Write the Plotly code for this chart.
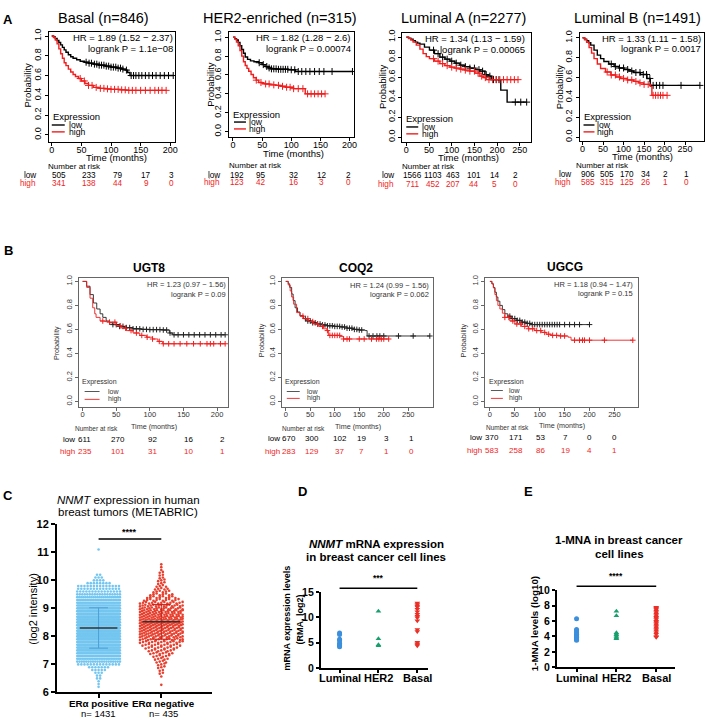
import numpy as np
import plotly.graph_objects as go

W, H = 709, 724
FONT = "Liberation Sans, Arial, Helvetica, sans-serif"
KRED = "#f01e1e"

# ---------------- Panel A / B : Kaplan-Meier data ----------------
PROB_TICKS = [0, 0.2, 0.4, 0.6, 0.8, 1.0]
PROB_LABELS = ["0.0", "0.2", "0.4", "0.6", "0.8", "1.0"]

basal_low_t = [0, 3, 6, 9, 12, 15, 18, 21, 24, 28, 32, 36, 42, 48, 55, 62, 70, 80, 90, 100, 110, 118, 124, 128, 132, 205]
basal_low_s = [1.0, 0.99, 0.975, 0.955, 0.935, 0.91, 0.885, 0.86, 0.835, 0.81, 0.79, 0.775, 0.76, 0.745, 0.735, 0.725, 0.715, 0.705, 0.695, 0.685, 0.675, 0.665, 0.655, 0.63, 0.60, 0.60]
basal_low_c = [58, 63, 67, 72, 76, 80, 84, 88, 92, 96, 100, 104, 108, 112, 116, 120, 126, 134, 138, 142, 147, 152, 158, 164, 170, 176, 183, 190, 197, 205]
basal_high_t = [0, 3, 6, 9, 12, 15, 18, 21, 24, 28, 32, 36, 40, 45, 50, 56, 62, 70, 80, 90, 100, 115, 125, 193]
basal_high_s = [1.0, 0.985, 0.96, 0.92, 0.87, 0.82, 0.775, 0.73, 0.70, 0.665, 0.635, 0.61, 0.59, 0.57, 0.545, 0.52, 0.50, 0.48, 0.47, 0.465, 0.46, 0.455, 0.45, 0.45]
basal_high_c = [48, 55, 62, 68, 75, 82, 88, 94, 100, 106, 112, 118, 124, 130, 136, 142, 150, 158, 166, 174, 180, 186, 193]

her2_low_t = [0, 3, 6, 9, 12, 15, 18, 21, 25, 30, 36, 44, 50, 55, 60, 65, 78, 95, 107, 205]
her2_low_s = [1.0, 0.985, 0.97, 0.945, 0.91, 0.87, 0.83, 0.79, 0.765, 0.75, 0.74, 0.73, 0.71, 0.69, 0.675, 0.665, 0.66, 0.655, 0.637, 0.637]
her2_low_c = [45, 52, 58, 62, 66, 70, 74, 78, 82, 86, 90, 94, 100, 106, 112, 118, 125, 132, 140, 148, 156, 170, 205]
her2_high_t = [0, 3, 6, 9, 12, 15, 18, 21, 24, 27, 31, 35, 40, 44, 50, 55, 63, 73, 82, 90, 104, 124, 158]
her2_high_s = [1.0, 0.98, 0.95, 0.91, 0.86, 0.80, 0.74, 0.70, 0.67, 0.64, 0.605, 0.57, 0.545, 0.52, 0.51, 0.505, 0.495, 0.49, 0.48, 0.47, 0.455, 0.40, 0.40]
her2_high_c = [40, 48, 56, 62, 70, 78, 85, 92, 98, 104, 112, 120, 128, 134, 140, 146, 152, 158]

luma_low_t = [0, 5, 10, 15, 20, 25, 30, 40, 51, 62, 74, 85, 96, 107, 118, 129, 140, 151, 162, 173, 180, 187, 205, 208, 222, 265]
luma_low_s = [1.0, 0.99, 0.98, 0.965, 0.95, 0.94, 0.93, 0.90, 0.87, 0.835, 0.80, 0.78, 0.76, 0.74, 0.72, 0.705, 0.69, 0.675, 0.66, 0.625, 0.61, 0.575, 0.57, 0.47, 0.35, 0.35]
luma_low_c = [60, 70, 80, 90, 100, 110, 120, 130, 140, 150, 160, 168, 176, 184, 192, 198, 204, 240, 252, 265]
luma_high_t = [0, 5, 10, 15, 22, 30, 37, 44, 51, 62, 74, 85, 96, 107, 118, 129, 140, 151, 162, 170, 176, 246]
luma_high_s = [1.0, 0.985, 0.97, 0.95, 0.92, 0.88, 0.835, 0.805, 0.785, 0.76, 0.735, 0.715, 0.70, 0.69, 0.68, 0.67, 0.66, 0.64, 0.61, 0.595, 0.575, 0.575]
luma_high_c = [60, 70, 80, 90, 100, 110, 120, 130, 140, 150, 158, 166, 174, 182, 190, 198, 206, 214, 222, 230, 238, 246]

lumb_low_t = [0, 5, 10, 15, 20, 28, 36, 44, 52, 64, 77, 89, 101, 113, 125, 141, 157, 165, 286]
lumb_low_s = [1.0, 0.985, 0.97, 0.95, 0.925, 0.875, 0.825, 0.79, 0.76, 0.735, 0.71, 0.695, 0.68, 0.665, 0.65, 0.63, 0.59, 0.52, 0.52]
lumb_low_c = [70, 80, 90, 100, 110, 120, 130, 140, 148, 156, 164, 172, 180, 188, 196, 240, 286]
lumb_high_t = [0, 5, 10, 16, 22, 28, 36, 44, 56, 69, 81, 93, 109, 125, 137, 149, 165, 169, 206]
lumb_high_s = [1.0, 0.98, 0.955, 0.90, 0.845, 0.79, 0.735, 0.69, 0.655, 0.625, 0.605, 0.59, 0.575, 0.56, 0.545, 0.53, 0.51, 0.42, 0.42]
lumb_high_c = [60, 70, 80, 90, 100, 110, 120, 130, 140, 150, 160, 172, 178, 184, 190, 196, 206]

ugt8_low_t = [0, 6, 11, 16, 21, 26, 30, 35, 40, 45, 55, 65, 75, 87, 99, 119, 129, 134, 212]
ugt8_low_s = [1.0, 0.96, 0.89, 0.82, 0.77, 0.73, 0.70, 0.67, 0.655, 0.64, 0.625, 0.615, 0.605, 0.60, 0.598, 0.595, 0.57, 0.555, 0.555]
ugt8_low_c = [45, 50, 55, 60, 65, 70, 75, 80, 85, 90, 95, 100, 105, 110, 115, 120, 125, 130, 136, 142, 150, 158, 166, 174, 182, 190, 198, 206, 212]
ugt8_high_t = [0, 6, 11, 15, 18, 20, 26, 33, 40, 50, 58, 65, 75, 85, 95, 104, 112, 119, 212]
ugt8_high_s = [1.0, 0.95, 0.86, 0.78, 0.73, 0.70, 0.67, 0.665, 0.66, 0.63, 0.61, 0.59, 0.57, 0.55, 0.535, 0.52, 0.50, 0.48, 0.48]
ugt8_high_c = [30, 40, 48, 56, 64, 72, 80, 88, 96, 104, 114, 120, 128, 136, 145, 155, 165, 175, 185, 190, 195, 205, 212]

coq2_low_t = [0, 5, 8, 12, 15, 19, 24, 29, 36, 43, 53, 63, 74, 84, 98, 111, 125, 138, 150, 162, 166, 294]
coq2_low_s = [1.0, 0.98, 0.95, 0.895, 0.84, 0.78, 0.745, 0.715, 0.69, 0.67, 0.655, 0.645, 0.637, 0.63, 0.625, 0.62, 0.61, 0.60, 0.595, 0.59, 0.545, 0.545]
coq2_low_c = [40, 45, 50, 55, 60, 65, 70, 75, 80, 85, 90, 95, 100, 105, 110, 115, 120, 125, 130, 135, 140, 145, 150, 155, 170, 178, 186, 192, 200, 230, 260, 294]
coq2_high_t = [0, 5, 9, 12, 16, 22, 29, 36, 46, 57, 67, 77, 84, 87, 111, 118, 210]
coq2_high_s = [1.0, 0.97, 0.92, 0.87, 0.81, 0.74, 0.71, 0.69, 0.665, 0.645, 0.625, 0.605, 0.59, 0.55, 0.54, 0.52, 0.52]
coq2_high_c = [35, 45, 55, 65, 75, 85, 90, 95, 100, 105, 110, 118, 125, 130, 150, 160, 175, 185, 190, 195, 200, 210]

ugcg_low_t = [0, 4, 7, 10, 13, 16, 20, 25, 30, 36, 43, 53, 63, 73, 83, 200]
ugcg_low_s = [1.0, 0.98, 0.95, 0.91, 0.87, 0.835, 0.80, 0.765, 0.73, 0.71, 0.69, 0.675, 0.66, 0.65, 0.64, 0.64]
ugcg_low_c = [40, 45, 50, 55, 60, 65, 70, 75, 80, 85, 90, 95, 100, 105, 110, 115, 120, 125, 130, 135, 140, 150, 160, 170, 180, 200]
ugcg_high_t = [0, 4, 7, 10, 13, 16, 20, 25, 30, 40, 50, 63, 77, 90, 103, 113, 123, 140, 157, 163, 287]
ugcg_high_s = [1.0, 0.98, 0.945, 0.89, 0.84, 0.80, 0.77, 0.735, 0.70, 0.67, 0.645, 0.625, 0.605, 0.59, 0.575, 0.56, 0.55, 0.545, 0.535, 0.51, 0.51]
ugcg_high_c = [30, 38, 46, 54, 62, 70, 78, 86, 94, 102, 110, 118, 126, 134, 142, 150, 170, 180, 186, 190, 200, 230, 287]

# Numbers at risk
basal_risk_low = [505, 233, 79, 17, 3]
basal_risk_high = [341, 138, 44, 9, 0]
her2_risk_low = [192, 95, 32, 12, 2]
her2_risk_high = [123, 42, 16, 3, 0]
luma_risk_low = [1566, 1103, 463, 101, 14, 2]
luma_risk_high = [711, 452, 207, 44, 5, 0]
lumb_risk_low = [906, 505, 170, 34, 2, 1]
lumb_risk_high = [585, 315, 125, 26, 1, 0]
ugt8_risk_low = [611, 270, 92, 16, 2]
ugt8_risk_high = [235, 101, 31, 10, 1]
coq2_risk_low = [670, 300, 102, 19, 3, 1]
coq2_risk_high = [283, 129, 37, 7, 1, 0]
ugcg_risk_low = [370, 171, 53, 7, 0, 0]
ugcg_risk_high = [583, 258, 86, 19, 4, 1]

A_titles = ["Basal (n=846)", "HER2-enriched (n=315)", "Luminal A (n=2277)", "Luminal B (n=1491)"]
A_hr = ["HR = 1.89 (1.52 − 2.37)", "HR = 1.82 (1.28 − 2.6)", "HR = 1.34 (1.13 − 1.59)", "HR = 1.33 (1.11 − 1.58)"]
A_p = ["logrank P = 1.1e−08", "logrank P = 0.00074", "logrank P = 0.00065", "logrank P = 0.0017"]
B_titles = ["UGT8", "COQ2", "UGCG"]
B_hr = ["HR = 1.23 (0.97 − 1.56)", "HR = 1.24 (0.99 − 1.56)", "HR = 1.18 (0.94 − 1.47)"]
B_p = ["logrank P = 0.09", "logrank P = 0.062", "logrank P = 0.15"]

# ---------------- Panel C : METABRIC swarm (value levels and counts) ----------------
C_categories = ["ERα positive", "ERα negative"]
C_n = ["n= 1431", "n= 435"]
C_pos_levels = [6.2, 6.3, 6.4, 6.5, 6.6, 6.7, 6.8, 6.9, 7.0, 7.1, 7.2, 7.3, 7.4, 7.5, 7.6, 7.7, 7.8, 7.9,
                8.0, 8.1, 8.2, 8.3, 8.4, 8.5, 8.6, 8.7, 8.8, 8.9, 9.0, 9.1, 9.2, 9.3, 9.4, 9.5, 9.6, 9.7,
                9.8, 9.9, 10.0, 10.1, 10.2, 11.1]
C_pos_counts = [1, 1, 1, 2, 2, 3, 5, 7, 14, 20, 26, 32, 38, 44, 50, 56, 62, 67,
                80, 81, 83, 83, 81, 79, 75, 71, 65, 59, 45, 38, 32, 27, 22, 18, 15, 14,
                14, 8, 4, 3, 2, 1]
C_neg_levels = [6.3, 6.6, 6.7, 6.8, 6.9, 7.0, 7.1, 7.2, 7.3, 7.4, 7.5, 7.6, 7.7, 7.8, 7.9,
                8.0, 8.1, 8.2, 8.3, 8.4, 8.5, 8.6, 8.7, 8.8, 8.9, 9.0, 9.1, 9.2, 9.3, 9.4,
                9.5, 9.6, 9.7, 9.8, 9.9, 10.0, 10.1, 10.2, 10.3, 10.4, 10.5, 10.6]
C_neg_counts = [1, 1, 2, 2, 3, 3, 4, 5, 6, 8, 9, 11, 13, 15, 17,
                20, 21, 22, 23, 24, 24, 24, 23, 22, 21, 19, 17, 15, 12, 10,
                8, 6, 5, 4, 3, 3, 2, 2, 2, 1, 1, 1]
C_mean = [8.3, 8.52]
C_sd = [0.72, 0.62]

# ---------------- Panels D / E : cell lines ----------------
DE_categories = ["Luminal", "HER2", "Basal"]
D_luminal = [6.9, 6.6, 5.7, 5.4, 4.9, 4.6, 4.4, 4.2]
D_her2 = [11.2, 5.8, 4.6, 4.4]
D_basal = [12.8, 12.5, 12.2, 12.0, 11.6, 11.1, 10.6, 10.2, 9.9, 9.3, 7.6, 7.2, 5.1, 4.8, 4.6, 4.4]
E_luminal = [6.3, 4.9, 4.7, 4.5, 4.3, 4.2, 4.0, 3.9, 3.8, 3.6, 3.5]
E_her2 = [7.3, 6.7, 4.5, 4.3, 4.2, 4.0, 3.8, 3.7]
E_basal = [7.8, 7.7, 7.6, 7.5, 7.3, 7.1, 6.9, 6.7, 6.5, 6.4, 6.2, 6.0, 5.9, 5.7, 5.5, 5.3, 5.1, 4.9, 4.7, 4.5, 4.3, 4.0, 3.9]

# =====================================================================
fig = go.Figure()
layout = dict(width=W, height=H, margin=dict(l=0, r=0, t=0, b=0), paper_bgcolor="white",
              plot_bgcolor="rgba(0,0,0,0)", showlegend=False, font=dict(family=FONT, color="black"))
ann, shp = [], []
axn = [0]


def P(x, y):
    return x / W, 1 - y / H


def txt(x, y, s, size, color="black", xa="center", ya="middle", angle=0, weight="normal"):
    px, py = P(x, y)
    ann.append(dict(x=px, y=py, xref="paper", yref="paper", text=s, showarrow=False,
                    font=dict(size=size, color=color, family=FONT, weight=weight),
                    xanchor=xa, yanchor=ya, textangle=angle, borderpad=0))


def seg(x0, y0, x1, y1, color="black", width=1):
    a0, a1 = P(x0, y0), P(x1, y1)
    shp.append(dict(type="line", xref="paper", yref="paper", x0=a0[0], y0=a0[1], x1=a1[0], y1=a1[1],
                    line=dict(color=color, width=width)))


def new_axes(box, xrange, yrange, xkw, ykw):
    axn[0] += 1
    n = axn[0]
    sfx = "" if n == 1 else str(n)
    l, t, r, b = box
    layout["xaxis" + sfx] = dict(domain=[l / W, r / W], range=xrange, anchor="y" + sfx, **xkw)
    layout["yaxis" + sfx] = dict(domain=[1 - b / H, 1 - t / H], range=yrange, anchor="x" + sfx, **ykw)
    return "x" + sfx, "y" + sfx


def km_curve(xr, yr, t, s, cens, color, lw, msize):
    fig.add_trace(go.Scatter(x=t, y=s, mode="lines", line=dict(color=color, width=lw, shape="hv"),
                             xaxis=xr, yaxis=yr, hoverinfo="skip"))
    ta, sa = np.array(t), np.array(s)
    idx = np.searchsorted(ta, np.array(cens), side="right") - 1
    fig.add_trace(go.Scatter(x=cens, y=sa[idx], mode="markers", xaxis=xr, yaxis=yr, hoverinfo="skip",
                             marker=dict(symbol="cross-thin", size=msize, color=color,
                                         line=dict(color=color, width=1))))


def km_panel(sp, big):
    col = "black" if big else "#666"
    tcol = "black" if big else "#333"
    fs = sp["fs"]
    common = dict(showline=True, linecolor=col, linewidth=1, mirror=True, ticks="outside", ticklen=3,
                  tickwidth=1, tickcolor=col, showgrid=False, zeroline=False,
                  tickfont=dict(size=fs["tick"], color=tcol, family=FONT))
    xkw = dict(common, tickvals=sp["xt"], ticklabelstandoff=(-4 if big else -3))
    ykw = dict(common, tickvals=PROB_TICKS, ticktext=PROB_LABELS, tickangle=-90)
    xr, yr = new_axes(sp["box"], sp["xr"], sp["yr"], xkw, ykw)
    lw = 1.4 if big else 0.9
    ms = 5 if big else 4
    km_curve(xr, yr, sp["low"][0], sp["low"][1], sp["low"][2], "black" if big else "#222", lw, ms)
    km_curve(xr, yr, sp["high"][0], sp["high"][1], sp["high"][2], KRED, lw, ms)
    txt(sp["title_xy"][0], sp["title_xy"][1], sp["title"], fs["title"], weight=("normal" if big else "bold"))
    txt(sp["hr_r"], sp["hr_y"][0], sp["hr"], fs["hr"], xa="right", color=tcol)
    txt(sp["hr_r"], sp["hr_y"][1], sp["p"], fs["hr"], xa="right", color=tcol)
    lg = sp["leg"]
    txt(lg["x"], lg["y"][0], "Expression", fs["leg"], xa="left", color=tcol)
    seg(lg["l0"], lg["y"][1], lg["l1"], lg["y"][1], "black" if big else "#444", lw)
    seg(lg["l0"], lg["y"][2], lg["l1"], lg["y"][2], KRED, lw)
    txt(lg["tx"], lg["y"][1], "low", fs["leg2"], xa="left", color=tcol)
    txt(lg["tx"], lg["y"][2], "high", fs["leg2"], xa="left", color=tcol)
    txt(sp["time"][0], sp["time"][1], "Time (months)", fs["lab"], color=tcol)
    txt(sp["prob"][0], sp["prob"][1], "Probability", fs["lab"], angle=-90, color=tcol)
    txt(sp["nar"][0], sp["nar"][1], "Number at risk", fs["nar"], color=tcol)
    txt(sp["lab_r"], sp["rows"][0], "low", fs["num"], xa="right", color="black")
    txt(sp["lab_r"], sp["rows"][1], "high", fs["num"], xa="right", color=KRED)
    for cx, v in zip(sp["cols"], sp["risk_low"]):
        txt(cx, sp["rows"][0], str(v), fs["num"], color="black")
    for cx, v in zip(sp["cols"], sp["risk_high"]):
        txt(cx, sp["rows"][1], str(v), fs["num"], color=KRED)


FS_A = dict(tick=9, title=14.5, hr=9.5, leg=9.5, leg2=8.6, lab=9.5, nar=8, num=8.2)
FS_B = dict(tick=7.5, title=12, hr=7.5, leg=7, leg2=7, lab=7.2, nar=6.5, num=8)
XT200 = [0, 50, 100, 150, 200]
XT250 = [0, 50, 100, 150, 200, 250]

A_specs = [
    dict(box=(49, 26, 176, 138), xr=[-5, 208.4], yr=[-0.07, 1.045], xt=XT200, title_xy=(104, 12),
         hr_r=175, hr_y=(32, 43), leg=dict(x=52, y=(112, 121, 128), l0=52, l1=65, tx=68),
         time=(117, 154), prob=(28, 80), nar=(75, 163), lab_r=37, rows=(172, 180),
         cols=[59, 89, 119, 147, 172], risk_low=basal_risk_low, risk_high=basal_risk_high,
         low=(basal_low_t, basal_low_s, basal_low_c), high=(basal_high_t, basal_high_s, basal_high_c)),
    dict(box=(230, 26, 356, 133), xr=[-6.8, 208.5], yr=[-0.055, 1.06], xt=XT200, title_xy=(281, 12),
         hr_r=353, hr_y=(32, 43), leg=dict(x=233, y=(110, 118, 125), l0=235, l1=247, tx=249),
         time=(295, 150), prob=(212, 80), nar=(257, 162), lab_r=222, rows=(172, 179),
         cols=[238, 262, 295, 323, 350], risk_low=her2_risk_low, risk_high=her2_risk_high,
         low=(her2_low_t, her2_low_s, her2_low_c), high=(her2_high_t, her2_high_s, her2_high_c)),
    dict(box=(404, 27, 533, 138), xr=[-8.8, 274], yr=[-0.046, 1.046], xt=XT250, title_xy=(465, 12),
         hr_r=528, hr_y=(33, 44), leg=dict(x=407, y=(114, 123, 130), l0=408, l1=420, tx=423),
         time=(470, 154), prob=(384, 82), nar=(430, 163), lab_r=397, rows=(172, 181),
         cols=[414, 435, 455, 476, 497, 518], risk_low=luma_risk_low, risk_high=luma_risk_high,
         low=(luma_low_t, luma_low_s, luma_low_c), high=(luma_high_t, luma_high_s, luma_high_c)),
    dict(box=(582, 27, 707, 137), xr=[-7.3, 296], yr=[-0.037, 1.052], xt=XT250, title_xy=(640, 12),
         hr_r=705, hr_y=(33, 43), leg=dict(x=585, y=(112, 121, 128), l0=586, l1=597, tx=599),
         time=(645, 153), prob=(562, 82), nar=(605, 162), lab_r=574, rows=(171, 179),
         cols=[590, 610, 630, 649, 668, 689], risk_low=lumb_risk_low, risk_high=lumb_risk_high,
         low=(lumb_low_t, lumb_low_s, lumb_low_c), high=(lumb_high_t, lumb_high_s, lumb_high_c)),
]
for i, sp in enumerate(A_specs):
    sp.update(title=A_titles[i], hr=A_hr[i], p=A_p[i], fs=FS_A)
    km_panel(sp, True)

B_specs = [
    dict(box=(79, 277, 229, 408), xr=[-5.9, 216.3], yr=[-0.049, 1.025], xt=XT200, title_xy=(150, 266),
         hr_r=228, hr_y=(283, 293), leg=dict(x=81, y=(382, 392, 400), l0=85, l1=100, tx=107),
         time=(155, 428), prob=(57, 343), nar=(97, 430), lab_r=76, rows=(441, 453),
         cols=[85, 118, 153, 189, 223], risk_low=ugt8_risk_low, risk_high=ugt8_risk_high,
         low=(ugt8_low_t, ugt8_low_s, ugt8_low_c), high=(ugt8_high_t, ugt8_high_s, ugt8_high_c)),
    dict(box=(283, 277, 435, 408), xr=[-8.1, 300.8], yr=[-0.049, 1.025], xt=XT250, title_xy=(358, 266),
         hr_r=432, hr_y=(284, 293), leg=dict(x=285, y=(382, 392, 399), l0=288, l1=301, tx=307),
         time=(360, 428), prob=(262, 340), nar=(305, 430), lab_r=282, rows=(440, 453),
         cols=[290, 313, 341, 363, 388, 413], risk_low=coq2_risk_low, risk_high=coq2_risk_high,
         low=(coq2_low_t, coq2_low_s, coq2_low_c), high=(coq2_high_t, coq2_high_s, coq2_high_c)),
    dict(box=(487, 277, 641, 408), xr=[-10, 298], yr=[-0.049, 1.025], xt=XT250, title_xy=(567, 265),
         hr_r=637, hr_y=(283, 292), leg=dict(x=490, y=(382, 391, 399), l0=493, l1=505, tx=510),
         time=(564, 427), prob=(465, 340), nar=(510, 429), lab_r=485, rows=(439, 452),
         cols=[494, 518, 543, 568, 592, 617], risk_low=ugcg_risk_low, risk_high=ugcg_risk_high,
         low=(ugcg_low_t, ugcg_low_s, ugcg_low_c), high=(ugcg_high_t, ugcg_high_s, ugcg_high_c)),
]
for i, sp in enumerate(B_specs):
    sp.update(title=B_titles[i], hr=B_hr[i], p=B_p[i], fs=FS_B)
    km_panel(sp, False)

# ---------------- Panel C ----------------
bold_tick = dict(size=11, color="black", family=FONT, weight="bold")
gp_axis = dict(showline=True, linecolor="black", linewidth=1.5, ticks="outside", ticklen=4, tickwidth=1.5,
               tickcolor="black", showgrid=False, zeroline=False, tickfont=bold_tick)
xc, yc = new_axes((57, 527, 213, 698), [0.333, 2.81], [6, 12],
                  dict(gp_axis, tickvals=[1, 2], showticklabels=False),
                  dict(gp_axis, tickvals=[6, 7, 8, 9, 10, 11, 12]))


def swarm(center, levels, counts, spacing, max_half, jitter):
    xs, ys = [], []
    for lv, n in zip(levels, counts):
        step = spacing
        if n > 1 and (n - 1) * step > 2 * max_half:
            step = 2 * max_half / (n - 1)
        for i in range(n):
            xs.append(center + (i - (n - 1) / 2) * step)
            ys.append(lv + jitter * ((i % 3) - 1))
    return xs, ys


bx, by = swarm(1, C_pos_levels, C_pos_counts, 0.05, 0.34, 0.0)
rx, ry = swarm(2, C_neg_levels, C_neg_counts, 0.05, 0.34, 0.03)
fig.add_trace(go.Scatter(x=bx, y=by, mode="markers", xaxis=xc, yaxis=yc, hoverinfo="skip",
                         marker=dict(size=2.6, color="#74c6f0", line=dict(width=0))))
fig.add_trace(go.Scatter(x=rx, y=ry, mode="markers", xaxis=xc, yaxis=yc, hoverinfo="skip",
                         marker=dict(size=2.6, color="#e8402f", line=dict(width=0))))
for k, (m, sd) in enumerate(zip(C_mean, C_sd)):
    cx = k + 1
    lc = "#4a9fd8" if k == 0 else "#c4221a"
    fig.add_trace(go.Scatter(x=[cx, cx], y=[m - sd, m + sd], mode="lines", xaxis=xc, yaxis=yc,
                             line=dict(color=lc, width=1), hoverinfo="skip"))
    for yv in (m - sd, m + sd):
        fig.add_trace(go.Scatter(x=[cx - 0.15, cx + 0.15], y=[yv, yv], mode="lines", xaxis=xc, yaxis=yc,
                                 line=dict(color=lc, width=1), hoverinfo="skip"))
    fig.add_trace(go.Scatter(x=[cx - 0.3, cx + 0.3], y=[m, m], mode="lines", xaxis=xc, yaxis=yc,
                             line=dict(color="#333", width=1.6), hoverinfo="skip"))

shp.append(dict(type="line", xref=xc, yref="paper", x0=1, x1=2, y0=P(0, 542)[1], y1=P(0, 542)[1],
                line=dict(color="black", width=1.5)))
txt(130, 535, "****", 9, weight="bold")
txt(129, 502, "<i>NNMT</i> expression in human", 11.5)
txt(129, 515, "breast tumors (METABRIC)", 11.5)
txt(33, 613, "(log2 intensity)", 11, angle=-90)
for k, (c, nn) in enumerate(zip(C_categories, C_n)):
    cxp = [99, 164][k]
    txt(cxp, 709, c, 9.8, weight="bold")
    txt(cxp, 719, nn, 9.5)

# ---------------- Panel D ----------------
bt = dict(size=10.5, color="black", family=FONT, weight="bold")
gp2 = dict(gp_axis, tickfont=bt, ticklen=3)
xd, yd = new_axes((322, 595.7, 430, 673.3), [0.513, 3.28], [0, 15],
                  dict(gp2, tickvals=[1, 2, 3], showticklabels=False),
                  dict(gp2, tickvals=[0, 5, 10, 15]))
for k, (vals, sym, colr) in enumerate([(D_luminal, "circle", "#3b8fdc"), (D_her2, "triangle-up", "#17a06d"),
                                       (D_basal, "triangle-down", "#eb2f27")]):
    fig.add_trace(go.Scatter(x=[k + 1] * len(vals), y=vals, mode="markers", xaxis=xd, yaxis=yd,
                             hoverinfo="skip", marker=dict(symbol=sym, size=5, color=colr, line=dict(width=0))))
shp.append(dict(type="line", xref=xd, yref="paper", x0=1, x1=3, y0=P(0, 592)[1], y1=P(0, 592)[1],
                line=dict(color="black", width=1.5)))
txt(380, 582, "***", 8.5, weight="bold")
txt(378, 547, "<i>NNMT</i> mRNA expression", 11.5, weight="bold")
txt(378, 560, "in breast cancer cell lines", 11.5, weight="bold")
txt(288, 622, "mRNA expression levels", 9, angle=-90, weight="bold")
txt(301, 624, "(RMA, log2)", 9, angle=-90, weight="bold")
for k, c in enumerate(DE_categories):
    txt([341, 380, 419][k], 683, c, 11, weight="bold")

# ---------------- Panel E ----------------
xe, ye = new_axes((559, 594.3, 678, 672.3), [0.5, 3.475], [0, 10],
                  dict(gp2, tickvals=[1, 2, 3], showticklabels=False),
                  dict(gp2, tickvals=[0, 2, 4, 6, 8, 10]))
for k, (vals, sym, colr) in enumerate([(E_luminal, "circle", "#3b8fdc"), (E_her2, "triangle-up", "#17a06d"),
                                       (E_basal, "triangle-down", "#eb2f27")]):
    fig.add_trace(go.Scatter(x=[k + 1] * len(vals), y=vals, mode="markers", xaxis=xe, yaxis=ye,
                             hoverinfo="skip", marker=dict(symbol=sym, size=5, color=colr, line=dict(width=0))))
shp.append(dict(type="line", xref=xe, yref="paper", x0=1, x1=3, y0=P(0, 590)[1], y1=P(0, 590)[1],
                line=dict(color="black", width=1.5)))
txt(619, 580, "****", 8.5, weight="bold")
txt(622, 543, "1-MNA in breast cancer", 11.5, weight="bold")
txt(622, 557, "cell lines", 11.5, weight="bold")
txt(537, 628, "1-MNA levels (log10)", 9.8, angle=-90, weight="bold")
for k, c in enumerate(DE_categories):
    txt([579, 619, 659][k], 683, c, 11, weight="bold")

# ---------------- panel letters ----------------
for lt, (x, y) in zip("ABCDE", [(8, 14), (9, 249), (8, 498), (304, 494), (531, 494)]):
    txt(x, y, lt, 13, weight="bold")

layout["annotations"] = ann
layout["shapes"] = shp
fig.update_layout(**layout)
fig.write_html("out.html", config={"displayModeBar": False},
               post_script="document.body.style.margin='0';document.body.style.overflow='hidden';")
